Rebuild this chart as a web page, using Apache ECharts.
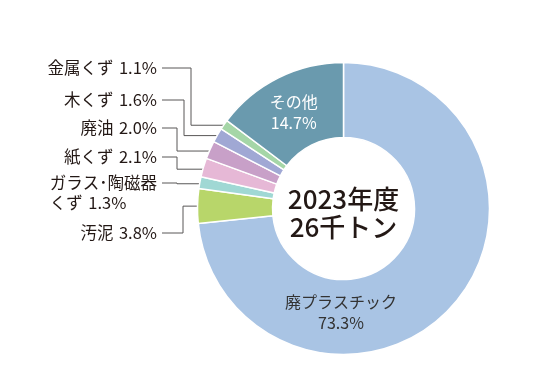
<!DOCTYPE html>
<html><head><meta charset="utf-8">
<script src="https://cdn.jsdelivr.net/npm/echarts@6/dist/echarts.min.js"></script>
<style>html,body{margin:0;padding:0;background:#fff}#c{width:559px;height:390px}</style>
</head><body><div id="c"></div>
<script>
// ---- data ----
const categories = ['廃プラスチック', '汚泥', 'ガラス･陶磁器くず', '紙くず', '廃油', '木くず', '金属くず', 'その他'];
const labelNames = ['廃プラスチック', '汚泥', 'ガラス･陶磁器\nくず', '紙くず', '廃油', '木くず', '金属くず', 'その他'];
const values = [73.3, 3.8, 1.3, 2.1, 2.0, 1.6, 1.1, 14.7];
const centerTitle = ['2023年度', '26千トン'];

// ---- styles ----
const colors = ['#a9c4e4', '#b8d66a', '#a0d8d4', '#e6b8d6', '#c8a0c8', '#a0a8d4', '#a5d6a7', '#6a9aae'];
const FONT = '"Noto Sans CJK JP", "Noto Sans", sans-serif';
const TEXT = '#231815';
const CX = 343.5, CY = 208.5, R0 = 71, R1 = 146;
const labelRight = 157;
const labelRowY = [null, 233, 193, 157, 128, 100, 68, null];
const lineJoinY = [null, 233, 183, 157, 128, 100, 68, null];
const bendX = [null, 183, 177, 177, 177, 184, 191, null];
const inset = [0, 9, 6, 6, 3, 1, 1, 0];
const SEP = '\u2004';

const total = values.reduce((a, b) => a + b, 0);

const chart = echarts.init(document.getElementById('c'), null, {renderer: 'canvas'});
const data = categories.map((name, i) => {
  const inside = (i === 0 || i === categories.length - 1);
  const item = {name: name, value: values[i], itemStyle: {color: colors[i]}};
  if (inside) {
    item.label = {position: 'inside', color: i === 0 ? '#333333' : '#ffffff', lineHeight: 21, fontSize: 16};
    item.labelLine = {show: false};
  }
  return item;
});

chart.setOption({
  animation: false,
  series: [{
    type: 'pie',
    center: [CX, CY],
    radius: [R0, R1],
    startAngle: 90,
    clockwise: true,
    avoidLabelOverlap: false,
    emphasis: {disabled: true},
    itemStyle: {borderColor: '#ffffff', borderWidth: 1.5},
    data: data,
    label: {
      show: true,
      position: 'outside',
      fontFamily: FONT,
      fontSize: 16.5,
      color: TEXT,
      lineHeight: 20,
      formatter: function (p) {
        const i = p.dataIndex;
        const v = values[i].toFixed(1) + '%';
        if (i === 0 || i === categories.length - 1) return labelNames[i] + '\n' + v;
        return labelNames[i] + SEP + v;
      }
    },
    labelLine: {show: true, lineStyle: {color: '#595757', width: 1}},
    labelLayout: function (p) {
      const i = p.dataIndex;
      if (i === 0) return {x: 341, y: 312, align: 'center', verticalAlign: 'middle'};
      if (i === categories.length - 1) return {dy: 4};
      let before = 0;
      for (let k = 0; k < i; k++) before += values[k];
      const mid = (before + values[i] / 2) / total * Math.PI * 2;
      const r = R1 - inset[i];
      const px = CX + Math.sin(mid) * r;
      const py = CY - Math.cos(mid) * r;
      const w = p.labelRect.width;
      return {
        x: labelRight - w,
        y: labelRowY[i],
        align: 'left',
        verticalAlign: 'middle',
        labelLinePoints: [[px, py], [bendX[i], py], [bendX[i], lineJoinY[i]], [labelRight + 5, lineJoinY[i]]]
      };
    }
  }],
  graphic: [{
    type: 'text',
    x: CX,
    y: 213,
    style: {
      text: centerTitle.join('\n'),
      fontFamily: FONT,
      fontSize: 26,
      fontWeight: 500,
      lineHeight: 28,
      fill: TEXT,
      align: 'center',
      verticalAlign: 'middle'
    }
  }]
});
</script>
</body></html>
